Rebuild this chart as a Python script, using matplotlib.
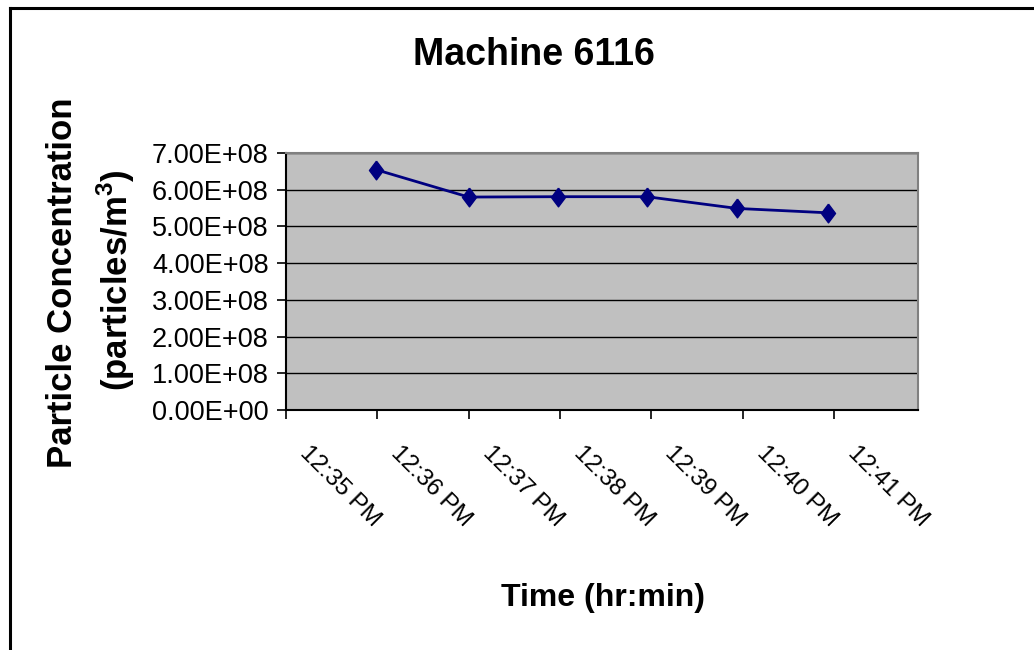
import matplotlib
matplotlib.use("Agg")
import matplotlib.pyplot as plt
from matplotlib.lines import Line2D
from matplotlib.transforms import ScaledTranslation

plt.rcParams["font.family"] = ["Liberation Sans", "DejaVu Sans"]
plt.rcParams["mathtext.fontset"] = "custom"
plt.rcParams["mathtext.bf"] = "Liberation Sans:bold"
plt.rcParams["mathtext.rm"] = "Liberation Sans"

# minutes after 12:35 PM
minutes = [0.98, 2.0, 2.98, 3.95, 4.94, 5.94]
concentration = [6.55e8, 5.80e8, 5.81e8, 5.81e8, 5.49e8, 5.37e8]
tick_minutes = [0, 1, 2, 3, 4, 5, 6]
tick_labels = ["12:35 PM", "12:36 PM", "12:37 PM", "12:38 PM", "12:39 PM", "12:40 PM", "12:41 PM"]
y_ticks = [0, 1e8, 2e8, 3e8, 4e8, 5e8, 6e8, 7e8]

W, H = 1034, 650
fig = plt.figure(figsize=(W / 100, H / 100), dpi=100)
ax = fig.add_axes([286 / W, 1 - 410 / H, (918 - 286) / W, (410 - 153) / H])
ax.set_facecolor("#c0c0c0")

for yv in y_ticks[1:]:
    ax.axhline(yv, color="black", linewidth=1.0, zorder=1)

tall_diamond = [(0, 1), (0.75, 0), (0, -1), (-0.75, 0), (0, 1)]
ax.plot(minutes, concentration, color="#000080", linewidth=2.0, marker=tall_diamond,
        markersize=13.5, markerfacecolor="#000080", markeredgecolor="#000080", zorder=3)

ax.set_xlim(0, 6.92)
ax.set_ylim(0, 7e8)
ax.set_yticks(y_ticks)
ax.set_yticklabels([f"{v:.2E}" for v in y_ticks], fontsize=19.5)
ax.set_xticks(tick_minutes)
ax.set_xticklabels([])
ax.tick_params(axis="y", direction="out", length=6.5, width=1.2, pad=6)
ax.tick_params(axis="x", direction="out", length=6.5, width=1.2)

# rotated time labels, placed just below each tick
offset = ScaledTranslation(18 / 72, -23 / 72, fig.dpi_scale_trans)
for t, lab in zip(tick_minutes, tick_labels):
    ax.text(t, 0, lab, transform=ax.get_xaxis_transform() + offset, fontsize=17.5,
            rotation=-45, rotation_mode="anchor", ha="left", va="top", clip_on=False)

for side in ["left", "bottom"]:
    ax.spines[side].set_color("black")
    ax.spines[side].set_linewidth(1.5)
for side in ["top", "right"]:
    ax.spines[side].set_color("#808080")
    ax.spines[side].set_linewidth(1.5)

fig.text(534 / W, 1 - 55 / H, "Machine 6116", fontsize=27, fontweight="bold",
         ha="center", va="center")
fig.text(603 / W, 1 - 598 / H, "Time (hr:min)", fontsize=23, fontweight="bold",
         ha="center", va="center")
fig.text(63 / W, 1 - 283 / H, "Particle Concentration", fontsize=25, fontweight="bold",
         rotation=90, ha="center", va="center")
fig.text(116 / W, 1 - 280 / H, r"(particles/m$^\mathbf{3}$)", fontsize=25, fontweight="bold",
         rotation=90, ha="center", va="center")

# chart border (only left and top edges fall inside the picture)
bx, by = 10 / W, 1 - 8 / H
fig.add_artist(Line2D([bx, bx], [0, by], color="black", linewidth=2.2, transform=fig.transFigure))
fig.add_artist(Line2D([bx, 1], [by, by], color="black", linewidth=2.2, transform=fig.transFigure))

fig.savefig("out.png", dpi=100)
